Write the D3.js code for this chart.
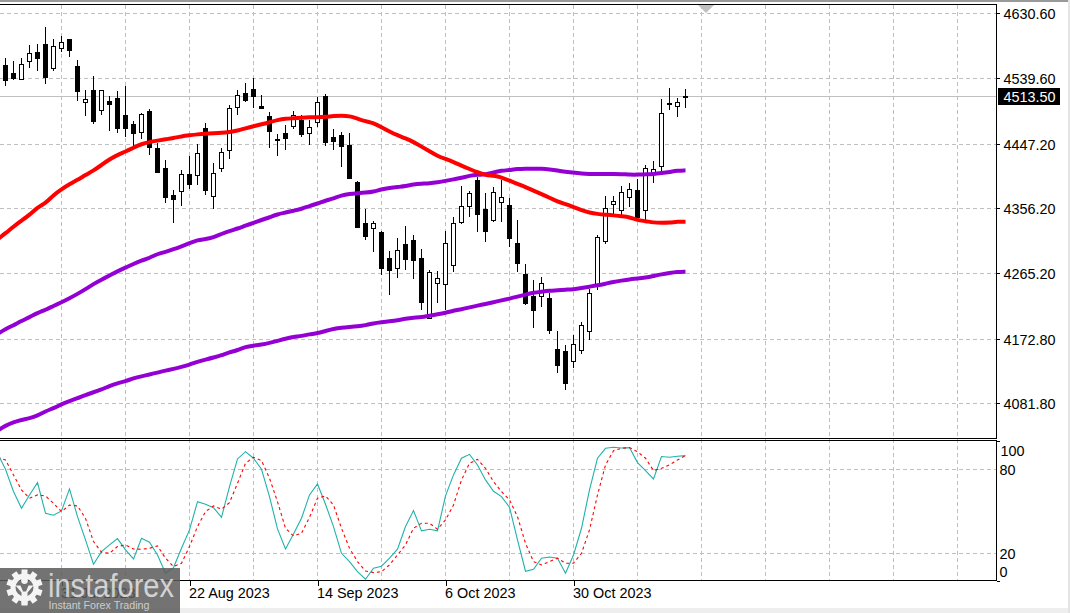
<!DOCTYPE html>
<html><head><meta charset="utf-8">
<script src="https://cdn.jsdelivr.net/npm/d3@7"></script>
<style>html,body{margin:0;padding:0;background:#fff;overflow:hidden}svg{display:block}text{font-family:"Liberation Sans",Arial,sans-serif}</style>
</head><body><svg id="c" width="1070" height="613"></svg>
<script>
const open=[4558.1,4546.9,4538.9,4564.2,4576.4,4587.7,4554.4,4582.5,4594.7,4556.7,4506.6,4523.0,4495.3,4507.5,4511.7,4487.8,4475.1,4464.3,4493.4,4441.4,4413.2,4375.2,4381.3,4404.8,4403.8,4469.5,4374.3,4413.7,4439.0,4498.6,
4518.3,4524.4,4500.0,4486.4,4453.6,4462.0,4472.8,4480.8,4463.0,4478.4,4514.5,4456.9,4459.7,4445.6,4393.5,4335.9,4329.3,4323.2,4286.6,4272.5,4306.3,4311.9,4286.6,4201.7,4251.9,4250.5,4277.2,4337.3,
4360.2,4396.3,4355.5,4340.5,4365.8,4361.1,4307.7,4264.0,4233.1,4233.6,4230.3,4158.5,4155.7,4142.1,4157.6,4184.3,4248.1,4310.9,4363.0,4354.6,4372.8,4382.2,4354.6,4404.7,4416.5,4503.2,4500.9,4514.5];
const close=[4537.0,4539.9,4559.1,4574.6,4568.0,4541.7,4584.4,4590.0,4579.2,4522.0,4509.8,4479.4,4522.5,4503.3,4469.5,4469.5,4462.5,4488.7,4442.8,4407.6,4372.4,4369.6,4404.8,4390.7,4433.9,4382.3,4406.2,4435.7,4497.6,4515.5,
4508.9,4514.5,4497.7,4465.8,4452.6,4455.5,4487.3,4461.1,4470.5,4505.6,4449.8,4451.2,4444.2,4399.2,4330.2,4317.6,4335.4,4272.5,4269.7,4297.4,4285.2,4283.8,4224.7,4266.9,4258.0,4307.2,4335.4,4359.3,
4377.5,4348.5,4324.5,4378.9,4371.9,4314.7,4279.5,4223.2,4213.4,4250.9,4185.2,4136.0,4110.7,4165.1,4191.8,4236.8,4315.6,4356.4,4366.3,4378.9,4383.2,4344.2,4412.7,4411.3,4490.1,4504.2,4505.6,4513.5];
const high=[4567.5,4563.8,4567.5,4586.3,4587.7,4611.1,4594.3,4598.9,4594.7,4565.2,4523.0,4542.7,4523.0,4514.5,4521.6,4528.6,4479.4,4490.1,4496.2,4447.9,4424.5,4382.3,4410.4,4430.1,4446.5,4476.5,4419.8,4440.9,4501.9,4523.0,
4532.4,4539.4,4516.0,4491.6,4461.1,4473.7,4493.0,4487.8,4480.8,4513.6,4517.4,4467.6,4463.9,4462.0,4394.5,4355.6,4338.7,4324.6,4296.5,4314.8,4331.6,4319.0,4299.3,4269.7,4268.3,4324.1,4344.3,4387.9,
4380.4,4401.0,4377.5,4386.5,4396.3,4371.0,4340.0,4278.1,4255.6,4259.8,4236.8,4183.4,4164.1,4178.2,4196.5,4242.5,4318.9,4373.8,4373.8,4387.9,4392.1,4397.7,4417.4,4423.0,4510.3,4525.7,4511.7,4524.3];
const low=[4528.6,4537.0,4537.0,4553.9,4550.2,4531.4,4550.2,4576.4,4569.9,4508.0,4486.4,4475.1,4487.8,4465.3,4462.9,4456.4,4443.2,4454.0,4431.5,4407.6,4364.0,4335.8,4359.8,4383.7,4389.3,4375.2,4355.5,4407.6,4425.9,4487.8,
4506.6,4497.2,4496.3,4441.4,4430.1,4438.6,4468.1,4456.4,4445.6,4470.5,4444.2,4438.6,4414.7,4399.2,4330.2,4311.9,4295.1,4262.7,4234.6,4258.5,4269.7,4257.1,4213.4,4201.7,4223.3,4213.4,4266.9,4334.5,
4344.7,4323.1,4309.1,4337.7,4337.2,4302.0,4266.9,4220.4,4188.1,4218.1,4179.6,4124.7,4100.8,4131.8,4151.5,4171.2,4241.5,4306.3,4347.1,4347.1,4358.3,4340.0,4340.0,4392.1,4408.0,4494.8,4484.9,4497.6];
// moving averages, first value belongs to the bar just left of the chart edge
const maRed=[4312.9,4321.3,4330.7,4339.1,4347.1,4357.9,4363.5,4375.2,4383.2,4390.7,4396.3,4403.4,4409.5,4417.4,4425.4,4431.5,4436.2,4441.8,4447.0,4449.8,4451.7,4453.6,4455.4,4457.8,4459.2,4460.6,4461.5,4462.0,4462.5,4463.9,4465.8,
4469.1,4471.9,4474.7,4477.5,4480.8,4482.7,4483.1,4484.1,4484.5,4484.5,4485.0,4486.4,4486.9,4486.4,4482.7,4478.9,4476.6,4470.5,4464.4,4459.2,4455.0,4449.8,4443.3,4436.7,4430.1,4425.9,4421.7,4416.5,
4411.8,4407.1,4403.3,4402.4,4400.1,4395.4,4390.7,4386.5,4381.3,4376.6,4371.4,4365.8,4362.5,4358.3,4353.6,4350.3,4348.5,4347.5,4346.6,4345.2,4344.2,4339.6,4338.6,4336.3,4336.3,4336.3,4337.7,4337.7];
const maUpper=[4179.7,4186.3,4191.9,4198.0,4203.2,4209.2,4213.5,4219.1,4224.3,4229.9,4236.0,4242.5,4250.1,4256.1,4261.8,4267.9,4273.0,4278.2,4282.9,4286.6,4292.3,4295.1,4298.8,4303.0,4307.3,4312.0,4312.9,4315.7,4320.4,4324.6,4327.9,
4332.1,4335.9,4340.1,4343.8,4348.1,4350.4,4353.2,4355.6,4359.8,4363.1,4367.3,4370.1,4374.8,4376.7,4377.6,4378.5,4379.9,4383.2,4385.1,4386.5,4387.4,4390.3,4391.2,4391.7,4393.1,4395.0,4397.3,4399.2,
4402.4,4403.8,4403.8,4407.1,4409.4,4410.4,4411.8,4412.2,4412.2,4412.2,4411.3,4409.9,4407.6,4407.1,4405.2,4404.7,4404.7,4404.7,4404.7,4404.7,4403.8,4403.8,4404.3,4404.7,4406.1,4407.6,4409.4,4409.9];
const maLower=[4043.7,4050.7,4055.4,4058.7,4061.0,4064.8,4070.9,4075.1,4080.7,4085.0,4089.2,4093.9,4097.6,4101.4,4106.5,4110.3,4113.1,4117.3,4120.1,4122.5,4125.3,4128.1,4130.5,4133.3,4136.1,4140.8,4143.6,4146.4,4149.7,4153.9,4156.7,
4161.8,4163.2,4164.7,4167.0,4169.8,4173.1,4175.4,4176.8,4179.2,4180.6,4183.9,4186.7,4188.6,4189.5,4190.4,4191.9,4194.7,4196.1,4197.5,4198.9,4201.2,4202.6,4203.1,4205.5,4207.3,4209.2,4212.5,4214.4,
4217.1,4219.5,4221.8,4224.2,4227.0,4229.3,4232.1,4235.0,4237.8,4239.2,4240.6,4241.1,4242.0,4242.5,4244.3,4246.2,4248.1,4250.4,4252.8,4254.7,4256.5,4257.5,4258.9,4261.2,4263.6,4265.4,4266.9,4267.3];
const stochMain=[91.4,80.0,64.1,52.2,61.7,70.5,48.6,47.2,50.3,66.0,46.2,29.6,12.2,21.2,26.0,30.5,22.4,16.0,30.7,27.9,18.8,5.8,9.8,23.6,36.7,56.9,55.0,52.6,45.7,67.6,87.4,92.6,87.9,80.0,60.5,37.4,23.1,33.8,45.0,61.7,69.5,55.0,39.1,20.0,
14.1,6.9,1.5,9.3,10.8,16.5,22.9,39.1,50.5,36.0,37.2,36.0,61.0,76.0,87.9,90.7,83.1,72.4,64.3,60.5,52.9,29.6,7.2,8.6,16.5,17.4,16.5,5.8,18.8,37.9,65.3,87.9,95.0,95.7,95.2,95.5,84.8,79.1,73.1,89.1,88.6,89.3,89.8];
const stochSignal=[88.6,86.7,76.0,65.3,59.3,61.7,61.0,55.7,49.8,54.5,53.8,45.0,28.4,20.8,20.0,24.8,26.0,23.1,22.9,23.6,25.3,16.5,10.5,12.9,24.8,39.1,49.8,53.8,51.5,56.2,70.0,84.3,88.6,86.2,73.6,56.9,37.9,32.4,34.3,45.7,59.3,61.0,54.5,37.9,
23.6,14.1,7.4,6.2,6.9,11.7,18.8,26.0,37.9,41.5,41.5,37.2,43.8,54.5,72.4,84.3,87.1,80.7,71.2,64.1,58.1,46.2,27.2,14.1,11.7,14.1,16.5,12.9,12.9,20.0,36.7,61.7,83.1,93.3,95.0,95.5,92.6,87.9,79.1,80.7,83.1,86.7,89.8];
const priceTicks=[4630.60,4539.60,4447.20,4356.20,4265.20,4172.80,4081.80];
const stochTicks=[100,80,20,0];
const stochGrid=[80,20];
const dateBars=[7,23,39,55,71];
const dateLabels=["31 Jul 2023","22 Aug 2023","14 Sep 2023","6 Oct 2023","30 Oct 2023"];
const gridBars=d3.range(7,120,8);
const lastPrice=4513.50;

const svg=d3.select("#c");
const W=1070,H=613,R=996.5,T1=5,B1=438.5,T2=440.5,B2=580.5;
const x=d3.scaleLinear().domain([0,85]).range([5.5,685.5]);
const y=d3.scaleLinear().domain([4630.6,4081.8]).range([13.5,403.5]);
const ys=d3.scaleLinear().domain([0,100]).range([581.3,441.3]);
const snap=v=>Math.floor(v)+.5;
const GRID="#c0c0c0";

// window frame
svg.append("rect").attr("width",W).attr("height",H).attr("fill","#fff");
svg.append("rect").attr("x",0).attr("y",0).attr("width",W).attr("height",2).attr("fill","#999999");
svg.append("rect").attr("x",0).attr("y",608).attr("width",W).attr("height",5).attr("fill","#eeeeee");
svg.append("rect").attr("x",1068).attr("y",0).attr("width",2).attr("height",H).attr("fill","#e4e4e4");

// grid
const grid=svg.append("g").attr("stroke",GRID).attr("stroke-dasharray","4 3").attr("fill","none");
grid.selectAll(".v").data(gridBars).join("line").attr("x1",d=>x(d)).attr("x2",d=>x(d)).attr("y1",T1).attr("y2",B2);
grid.selectAll(".h").data(priceTicks).join("line").attr("x1",0).attr("x2",R).attr("y1",d=>snap(y(d)+.2)).attr("y2",d=>snap(y(d)+.2));
grid.selectAll(".s").data(stochGrid).join("line").attr("x1",0).attr("x2",R).attr("y1",d=>snap(ys(d))).attr("y2",d=>snap(ys(d)));

// last price line
svg.append("line").attr("x1",0).attr("x2",R).attr("y1",snap(y(lastPrice))).attr("y2",snap(y(lastPrice))).attr("stroke",GRID);

// candles
const bars=d3.range(open.length);
const g=svg.append("g").attr("shape-rendering","crispEdges");
g.selectAll(".w").data(bars).join("line").attr("stroke","#000")
 .attr("x1",d=>x(d)).attr("x2",d=>x(d)).attr("y1",d=>Math.round(y(high[d]))).attr("y2",d=>Math.round(y(low[d])));
g.selectAll(".b").data(bars).join("rect")
 .attr("x",d=>x(d)-2).attr("width",4)
 .attr("y",d=>Math.round(y(Math.max(open[d],close[d])))+.5)
 .attr("height",d=>Math.max(1,Math.round(y(Math.min(open[d],close[d])))-Math.round(y(Math.max(open[d],close[d])))))
 .attr("fill",d=>close[d]>open[d]?"#fff":"#000").attr("stroke","#000");

// moving averages
const lineMain=d3.line().x((d,i)=>x(i-1)).y(d=>y(d)).curve(d3.curveBasis);
[[maUpper,"#9400d3"],[maLower,"#9400d3"],[maRed,"#ff0000"]].forEach(([a,c])=>{
 svg.append("path").attr("d",lineMain(a)).attr("fill","none").attr("stroke",c).attr("stroke-width",4).attr("stroke-linejoin","round");
});

// stochastic
const lineS=d3.line().x((d,i)=>x(i-1)).y(d=>ys(d));
svg.append("path").attr("d",lineS(stochMain)).attr("fill","none").attr("stroke","#20b2aa").attr("stroke-width",1.1);
svg.append("path").attr("d",lineS(stochSignal)).attr("fill","none").attr("stroke","#ff0000").attr("stroke-width",1.1).attr("stroke-dasharray","3 3");

// shift marker
svg.append("path").attr("d",d3.line()([[698,5],[714,5],[706,13]])+"Z").attr("fill","#c0c0c0");

// pane borders
const bord=svg.append("g").attr("stroke","#000").attr("shape-rendering","crispEdges");
[[0,R,T1-.5,T1-.5],[0,R,B1-.5,B1-.5],[0,R,T2,T2],[0,R,B2,B2],[R,R,T1-.5,B1-.5],[R,R,T2,B2]].forEach(l=>
 bord.append("line").attr("x1",l[0]).attr("x2",l[1]).attr("y1",l[2]).attr("y2",l[3]));

// axes
const fs=14.4;
const axP=svg.append("g").attr("transform",`translate(${R},0)`).call(d3.axisRight(y).tickValues(priceTicks).tickSize(3).tickPadding(3).tickFormat(d3.format(".2f")));
axP.select(".domain").remove();
axP.selectAll(".tick").attr("transform",d=>`translate(0,${snap(y(d)+.2)})`);
axP.selectAll("text").attr("font-size",fs).attr("fill","#000").attr("font-family",'"Liberation Sans"').attr("x",7).attr("dy","0.36em");
axP.selectAll("line").attr("stroke","#000").attr("shape-rendering","crispEdges");

const axS=svg.append("g").attr("transform",`translate(${R},0)`).call(d3.axisRight(ys).tickValues(stochTicks).tickSize(3).tickFormat(d3.format("d")));
axS.select(".domain").remove();
axS.selectAll("text").attr("font-size",fs).attr("fill","#000").attr("font-family",'"Liberation Sans"').attr("x",d=>d===100?4:3).attr("dy",d=>d===100?"1.02em":d===0?"-0.3em":"0.36em");
axS.selectAll("line").attr("stroke",d=>(d===80||d===20)?"none":"#000").attr("shape-rendering","crispEdges");

// last price tag
svg.append("rect").attr("x",998).attr("y",88).attr("width",62).attr("height",17).attr("fill","#000");
svg.append("text").attr("x",1003.5).attr("y",snap(y(lastPrice))+.5).attr("dy","0.36em").attr("font-size",fs).attr("fill","#fff").text(d3.format(".2f")(lastPrice));

// date axis
const axD=svg.append("g").attr("transform",`translate(0,${B2})`).call(d3.axisBottom(x).tickValues(dateBars).tickSize(5).tickPadding(5).tickFormat((d,i)=>dateLabels[i]));
axD.select(".domain").remove();
axD.selectAll("text").attr("font-size",fs).attr("fill","#000").attr("font-family",'"Liberation Sans"').attr("text-anchor","start").attr("x",-1).attr("y",5).attr("dy","0.85em");
axD.selectAll("line").attr("stroke","#000").attr("shape-rendering","crispEdges");

// watermark
const wm=svg.append("g");
wm.append("rect").attr("x",0).attr("y",568).attr("width",180).attr("height",45).attr("fill","#5a5a5a").attr("opacity",.85);
const gear=wm.append("g").attr("transform","translate(24.5,587.5)").attr("fill","#fff").attr("opacity",.92);
d3.range(10).forEach(k=>gear.append("rect").attr("x",-3).attr("y",-18).attr("width",6).attr("height",8).attr("transform",`rotate(${k*36})`));
gear.append("path").attr("fill-rule","evenodd").attr("d",d3.arc()({innerRadius:9,outerRadius:14,startAngle:0,endAngle:2*Math.PI}));
gear.append("circle").attr("cy",-7).attr("r",3.4);
gear.append("path").attr("d","M-9,-2 L-4,-2 L-1.5,4 L1.5,4 L4,-2 L9,-2 L3,5 L3,17 L-3,17 L-3,5 Z");
wm.append("text").attr("x",48).attr("y",597).attr("font-size",34).attr("font-family","'Open Sans'").attr("font-weight",300).attr("fill","#fff").attr("fill-opacity",.7).attr("textLength",126).attr("lengthAdjust","spacingAndGlyphs").text("instaforex");
wm.append("text").attr("x",48.5).attr("y",608.5).attr("font-size",11.5).attr("font-family","'Open Sans'").attr("fill","#fff").attr("fill-opacity",.65).attr("textLength",101).attr("lengthAdjust","spacingAndGlyphs").text("Instant Forex Trading");
</script></body></html>
